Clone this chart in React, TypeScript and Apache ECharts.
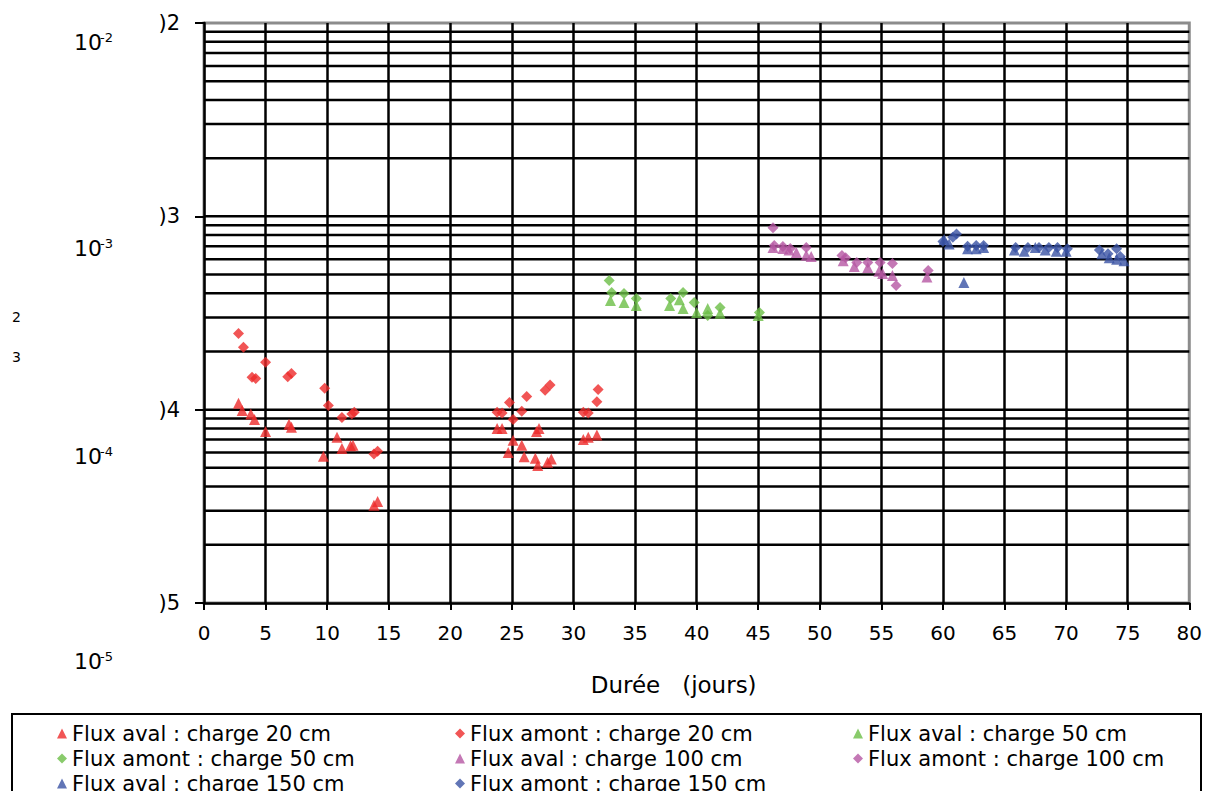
import React, { useEffect, useRef } from "react";
import * as echarts from "echarts";

const FONT = "DejaVu Sans";

const seriesNames = [
  "Flux aval : charge 20 cm",
  "Flux amont : charge 20 cm",
  "Flux aval : charge 50 cm",
  "Flux amont : charge 50 cm",
  "Flux aval : charge 100 cm",
  "Flux amont : charge 100 cm",
  "Flux aval : charge 150 cm",
  "Flux amont : charge 150 cm",
];

const seriesColors = ["#EE2A2A", "#EE2A2A", "#6CBE46", "#6CBE46", "#B556A3", "#B556A3", "#3A53A4", "#3A53A4"];
const seriesSymbols = ["triangle", "diamond", "triangle", "diamond", "triangle", "diamond", "triangle", "diamond"];

const aval20 = [
  [2.8, 1.08e-4], [3.1, 9.9e-5], [3.8, 9.5e-5], [4.1, 8.9e-5], [5.0, 7.7e-5], [6.9, 8.4e-5], [7.1, 8.1e-5],
  [9.7, 5.75e-5], [10.8, 7.2e-5], [11.2, 6.3e-5], [11.9, 6.5e-5], [12.1, 6.55e-5], [13.8, 3.2e-5], [14.1, 3.35e-5],
  [23.8, 8.0e-5], [24.2, 8.0e-5], [24.7, 6.0e-5], [25.1, 6.95e-5], [25.8, 6.55e-5], [26.0, 5.7e-5], [26.9, 5.6e-5],
  [27.0, 7.7e-5], [27.2, 8.0e-5], [27.1, 5.15e-5], [27.9, 5.35e-5], [28.2, 5.55e-5], [30.8, 7.0e-5], [31.2, 7.2e-5],
  [31.9, 7.4e-5],
];
const amont20 = [
  [2.8, 2.48e-4], [3.2, 2.1e-4], [3.9, 1.47e-4], [4.2, 1.45e-4], [5.0, 1.76e-4], [6.8, 1.48e-4], [7.1, 1.54e-4],
  [9.8, 1.29e-4], [10.1, 1.05e-4], [11.2, 9.1e-5], [12.0, 9.5e-5], [12.2, 9.7e-5], [13.8, 5.9e-5], [14.1, 6.1e-5],
  [23.8, 9.7e-5], [24.2, 9.6e-5], [24.8, 1.09e-4], [25.1, 8.9e-5], [25.8, 9.8e-5], [26.2, 1.17e-4], [27.7, 1.26e-4],
  [28.1, 1.34e-4], [30.8, 9.7e-5], [31.2, 9.6e-5], [31.9, 1.1e-4], [32.0, 1.27e-4],
];
const aval50 = [
  [33.0, 3.67e-4], [34.1, 3.58e-4], [35.1, 3.46e-4], [37.8, 3.46e-4], [38.6, 3.7e-4], [38.9, 3.34e-4],
  [40.0, 3.18e-4], [40.9, 3.34e-4], [41.9, 3.15e-4], [45.0, 3.07e-4],
];
const amont50 = [
  [32.9, 4.66e-4], [33.1, 4.04e-4], [34.1, 3.99e-4], [35.1, 3.76e-4], [37.9, 3.76e-4], [38.9, 4.04e-4],
  [39.8, 3.58e-4], [40.9, 3.07e-4], [41.9, 3.38e-4], [45.1, 3.18e-4],
];
const aval100 = [
  [46.2, 6.9e-4], [47.0, 6.81e-4], [47.5, 6.7e-4], [48.1, 6.5e-4], [48.9, 6.3e-4], [49.3, 6.2e-4], [51.9, 5.9e-4],
  [52.8, 5.5e-4], [53.9, 5.44e-4], [54.8, 5.2e-4], [55.1, 5.06e-4], [55.9, 4.94e-4], [58.7, 4.85e-4],
];
const amont100 = [
  [46.2, 8.74e-4], [46.3, 7.06e-4], [47.0, 6.98e-4], [47.6, 6.81e-4], [48.9, 6.89e-4], [51.8, 6.27e-4],
  [52.1, 6.1e-4], [53.0, 5.77e-4], [53.9, 5.77e-4], [54.9, 5.77e-4], [55.9, 5.7e-4], [56.2, 4.39e-4], [58.8, 5.24e-4],
];
const aval150 = [
  [60.1, 7.6e-4], [60.5, 7.2e-4], [61.7, 4.55e-4], [62.0, 6.8e-4], [62.7, 6.8e-4], [63.3, 6.9e-4], [65.8, 6.7e-4],
  [66.6, 6.6e-4], [67.5, 6.9e-4], [68.3, 6.7e-4], [69.2, 6.6e-4], [70.0, 6.6e-4], [72.9, 6.4e-4], [73.5, 6.1e-4],
  [74.1, 6.0e-4], [74.7, 5.9e-4],
];
const amont150 = [
  [60.0, 7.4e-4], [60.8, 7.8e-4], [61.1, 8.1e-4], [62.0, 7.0e-4], [62.7, 7.06e-4], [63.3, 7.06e-4], [65.9, 6.9e-4],
  [66.9, 6.9e-4], [67.8, 6.9e-4], [68.6, 6.9e-4], [69.3, 6.9e-4], [70.1, 6.8e-4], [72.7, 6.7e-4], [73.4, 6.4e-4],
  [74.1, 6.8e-4], [74.4, 6.2e-4],
];
const seriesData = [aval20, amont20, aval50, amont50, aval100, amont100, aval150, amont150];

// axis ranges, and the exponent labels beside the y axis
const xMin = 0;
const xMax = 80;
const yMin = 1e-5;
const yMax = 1e-2;
const decadeExponents = [-2, -3, -4, -5];
const decadeLabelY = [42, 248, 456, 661];

// horizontal gridlines of the log scale (1..9 x 10^k)
const gridValues: number[] = [];
for (let e = -5; e < -2; e++) {
  for (let m = 1; m <= 9; m++) {
    const v = m * Math.pow(10, e);
    if (v > yMin) gridValues.push(v);
  }
}

export default function App() {
  const ref = useRef<HTMLDivElement>(null);

  useEffect(() => {
    if (!ref.current) return;
    const chart = echarts.init(ref.current, null, { renderer: "svg" });

    const graphic: any[] = [];
    decadeExponents.forEach((e, i) => {
      graphic.push({
        type: "text",
        left: 74,
        top: decadeLabelY[i] - 11,
        style: { text: "10", fontSize: 22, fontFamily: FONT, fill: "#000" },
      });
      graphic.push({
        type: "text",
        left: 100,
        top: decadeLabelY[i] - 11,
        style: { text: String(e), fontSize: 13, fontFamily: FONT, fill: "#000" },
      });
    });
    graphic.push({ type: "text", left: 12, top: 310, style: { text: "2", fontSize: 14, fontFamily: FONT, fill: "#000" } });
    graphic.push({ type: "text", left: 12, top: 350, style: { text: "3", fontSize: 14, fontFamily: FONT, fill: "#000" } });
    graphic.push({
      type: "rect",
      shape: { x: 12, y: 714, width: 1189, height: 120 },
      style: { fill: "none", stroke: "#000", lineWidth: 2 },
      z: 0,
    });

    const series: any[] = [
      {
        name: "gridlines",
        type: "custom",
        silent: true,
        z: 1,
        data: gridValues.map((v) => [xMin, v]),
        encode: { x: 0, y: 1 },
        renderItem: (params: any, api: any) => {
          const v = api.value(1);
          const p1 = api.coord([xMin, v]);
          const p2 = api.coord([xMax, v]);
          return {
            type: "line",
            shape: { x1: p1[0], y1: p1[1], x2: p2[0], y2: p2[1] },
            style: { stroke: "#000", lineWidth: 2.5 },
          };
        },
      },
    ];
    seriesData.forEach((d, i) => {
      series.push({
        name: seriesNames[i],
        type: "scatter",
        data: d,
        symbol: seriesSymbols[i],
        symbolSize: 11,
        itemStyle: { color: seriesColors[i] },
        z: 3,
      });
    });

    chart.setOption({
      animation: false,
      backgroundColor: "#fff",
      textStyle: { fontFamily: FONT },
      grid: {
        left: 204,
        right: 15,
        top: 23,
        bottom: 188,
        show: true,
        borderColor: "#8c8c8c",
        borderWidth: 3,
        backgroundColor: "transparent",
      },
      xAxis: {
        type: "value",
        min: xMin,
        max: xMax,
        interval: 5,
        name: "Durée   (jours)",
        nameLocation: "middle",
        nameGap: 70,
        nameTextStyle: { fontSize: 23, color: "#000", fontFamily: FONT, padding: [0, 46, 0, 0] },
        axisLine: { show: true, lineStyle: { color: "#000", width: 2.5 } },
        axisTick: { show: true, length: 7, lineStyle: { color: "#000", width: 2 } },
        axisLabel: { color: "#000", fontSize: 20, fontFamily: FONT, margin: 20 },
        splitLine: { show: true, showMinLine: false, showMaxLine: false, lineStyle: { color: "#000", width: 2.5 } },
      },
      yAxis: {
        type: "log",
        logBase: 10,
        min: yMin,
        max: yMax,
        axisLine: { show: true, lineStyle: { color: "#000", width: 2.5 } },
        axisTick: { show: true, length: 9, lineStyle: { color: "#000", width: 2 } },
        axisLabel: {
          color: "#000",
          fontSize: 21,
          fontFamily: FONT,
          margin: 24,
          formatter: (v: number) => ")" + Math.round(-Math.log10(v)),
        },
        splitLine: { show: false },
      },
      legend: {
        data: seriesNames,
        left: 57,
        top: 723,
        width: 1195,
        padding: 0,
        itemWidth: 10,
        itemHeight: 10,
        itemGap: 4,
        textStyle: { fontSize: 21, fontFamily: FONT, color: "#000", width: 379, lineHeight: 20 },
      },
      graphic,
      series,
    });

    return () => chart.dispose();
  }, []);

  return (
    <div
      ref={ref}
      style={{ position: "fixed", left: 0, top: 0, width: 1205, height: 791, background: "#fff" }}
    />
  );
}
